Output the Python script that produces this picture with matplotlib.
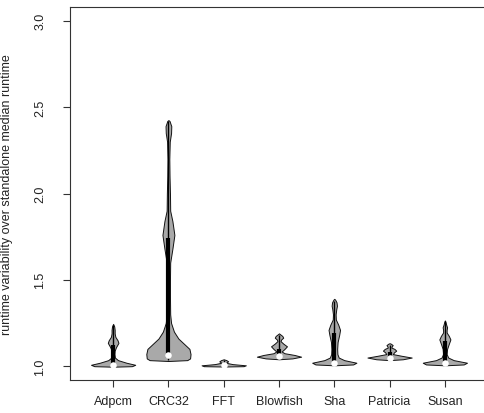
import matplotlib
matplotlib.use("Agg")
import matplotlib.pyplot as plt
import numpy as np

plt.rcParams['font.family'] = ['Liberation Sans', 'DejaVu Sans']

benchmarks = ['Adpcm', 'CRC32', 'FFT', 'Blowfish', 'Sha', 'Patricia', 'Susan']

# density profiles (y value, relative half-width)
adpcm_y = [0.997, 1.0, 1.008, 1.02, 1.035, 1.05, 1.07, 1.09, 1.11, 1.135, 1.15, 1.17, 1.19, 1.21, 1.23, 1.245]
adpcm_w = [0, 0.85, 1.0, 0.6, 0.22, 0.08, 0.06, 0.07, 0.13, 0.24, 0.2, 0.1, 0.07, 0.07, 0.05, 0]
crc32_y = [1.03, 1.035, 1.045, 1.07, 1.1, 1.13, 1.16, 1.2, 1.25, 1.3, 1.4, 1.5, 1.6, 1.68, 1.76,
           1.84, 1.9, 2.0, 2.1, 2.2, 2.3, 2.35, 2.39, 2.42, 2.425]
crc32_w = [0, 0.85, 0.98, 1.0, 0.95, 0.7, 0.45, 0.25, 0.12, 0.08, 0.07, 0.07, 0.08, 0.18, 0.27,
           0.18, 0.08, 0.07, 0.05, 0.04, 0.06, 0.12, 0.13, 0.05, 0]
fft_y = [0.998, 1.0, 1.005, 1.012, 1.02, 1.028, 1.035, 1.04]
fft_w = [0, 0.9, 1.0, 0.4, 0.1, 0.2, 0.12, 0]
blowfish_y = [1.04, 1.045, 1.055, 1.065, 1.075, 1.085, 1.1, 1.115, 1.13, 1.145, 1.155, 1.165, 1.175, 1.185, 1.19]
blowfish_w = [0, 0.6, 1.0, 0.7, 0.25, 0.12, 0.25, 0.36, 0.2, 0.07, 0.1, 0.19, 0.15, 0.05, 0]
sha_y = [1.005, 1.01, 1.02, 1.035, 1.05, 1.07, 1.1, 1.14, 1.18, 1.21, 1.24, 1.27, 1.3, 1.33, 1.35, 1.37, 1.385, 1.39]
sha_w = [0, 0.85, 1.0, 0.45, 0.2, 0.14, 0.13, 0.15, 0.22, 0.26, 0.18, 0.07, 0.06, 0.09, 0.12, 0.1, 0.04, 0]
patricia_y = [1.035, 1.04, 1.05, 1.06, 1.07, 1.08, 1.09, 1.1, 1.108, 1.115, 1.122, 1.13, 1.133]
patricia_w = [0, 0.6, 1.0, 0.55, 0.15, 0.2, 0.3, 0.22, 0.08, 0.1, 0.14, 0.06, 0]
susan_y = [1.005, 1.01, 1.02, 1.035, 1.05, 1.07, 1.1, 1.13, 1.155, 1.175, 1.195, 1.21, 1.225, 1.24, 1.255, 1.265]
susan_w = [0, 0.85, 1.0, 0.4, 0.15, 0.08, 0.1, 0.18, 0.25, 0.18, 0.08, 0.08, 0.1, 0.06, 0.03, 0]

# box summary per benchmark
medians = [1.004, 1.063, 1.005, 1.058, 1.017, 1.048, 1.02]
q1s = [1.0, 1.05, 1.0, 1.05, 1.01, 1.044, 1.01]
q3s = [1.12, 1.74, 1.01, 1.1, 1.19, 1.085, 1.145]
lows = [0.998, 1.035, 0.999, 1.045, 1.008, 1.04, 1.008]
highs = [1.24, 2.42, 1.035, 1.18, 1.38, 1.125, 1.26]

profiles = [(adpcm_y, adpcm_w), (crc32_y, crc32_w), (fft_y, fft_w), (blowfish_y, blowfish_w),
            (sha_y, sha_w), (patricia_y, patricia_w), (susan_y, susan_w)]

vpstats = []
for (ys, ws), med, lo, hi in zip(profiles, medians, lows, highs):
    vpstats.append(dict(coords=np.array(ys), vals=np.array(ws), mean=med,
                        median=med, min=lo, max=hi))

positions = np.arange(1, len(benchmarks) + 1)

fig = plt.figure(figsize=(4.84, 4.14), dpi=100)
ax = fig.add_axes([70 / 484, 33 / 414, 418 / 484, 373 / 414])

parts = ax.violin(vpstats, positions=positions, widths=0.8,
                  showmeans=False, showextrema=False, showmedians=False)
for body in parts['bodies']:
    body.set_facecolor('#a9a9a9')
    body.set_edgecolor('#111111')
    body.set_linewidth(0.7)
    body.set_alpha(1)

ax.vlines(positions, lows, highs, color='black', lw=1, zorder=3)
ax.vlines(positions, q1s, q3s, color='black', lw=3, zorder=4)
ax.scatter(positions, medians, s=22, color='white', zorder=5, linewidths=0)

ax.set_xlim(0.22, 7.78)
ax.set_ylim(0.92, 3.08)
ax.set_xticks(positions)
ax.set_xticklabels(benchmarks)
ax.set_yticks([1.0, 1.5, 2.0, 2.5, 3.0])
ax.set_yticklabels(['1.0', '1.5', '2.0', '2.5', '3.0'], rotation=90, va='center')
ax.tick_params(axis='both', direction='out', length=5, width=0.8, colors='#333333',
               labelcolor='#222222', labelsize=9)
ax.tick_params(axis='x', pad=6)
ax.tick_params(axis='y', pad=12)
for side in ('top', 'left', 'bottom', 'right'):
    ax.spines[side].set_color('#333333')
    ax.spines[side].set_linewidth(0.8)

ax.set_ylabel('runtime variability over standalone median runtime', fontsize=9, color='#222222')
ax.yaxis.set_label_coords(-0.136, 0.5)

fig.savefig('out.png', dpi=100)
